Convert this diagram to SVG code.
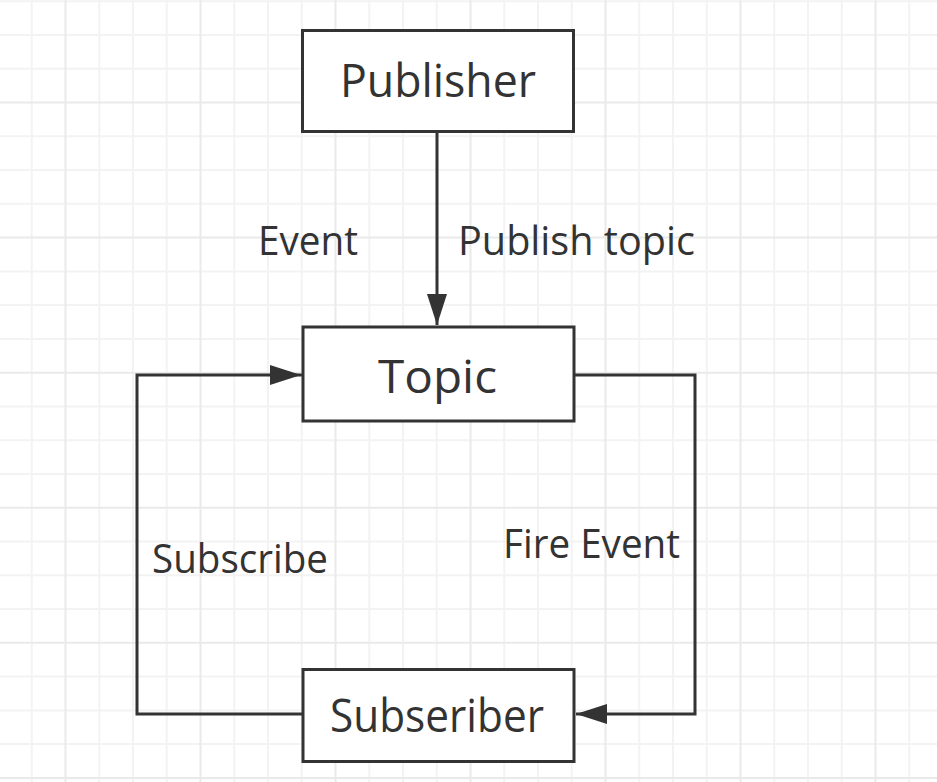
<svg xmlns="http://www.w3.org/2000/svg" width="937" height="782" viewBox="0 0 937 782">
<style>
.minor{stroke:#f3f3f3;stroke-width:2;fill:none}
.major{stroke:#eaeaea;stroke-width:2;fill:none}
.box{fill:#ffffff;stroke:#333333;stroke-width:3}
.edge{fill:none;stroke:#333333;stroke-width:3;stroke-linejoin:miter}
.t{font-family:"Open Sans","Noto Sans","DejaVu Sans",sans-serif;fill:#333333}
.node{font-size:46px}
.lbl{font-size:40px}
</style>
<defs>
<marker id="arr" markerUnits="userSpaceOnUse" markerWidth="32" markerHeight="20" refX="31" refY="10" orient="auto">
<path d="M0,0 L31,10 L0,20 z" fill="#333333"/>
</marker>
</defs>
<rect width="937" height="782" fill="#ffffff"/>
<g id="grid">
<path class="minor" d="M31.75,0V782M99.25,0V782M133,0V782M166.75,0V782M234.25,0V782M268,0V782M301.75,0V782M369.25,0V782M403,0V782M436.75,0V782M504.25,0V782M538,0V782M571.75,0V782M639.25,0V782M673,0V782M706.75,0V782M774.25,0V782M808,0V782M841.75,0V782M909.25,0V782M0,1.2H937M0,35H937M0,68.7H937M0,136.3H937M0,170.1H937M0,203.8H937M0,271.4H937M0,305.1H937M0,338.9H937M0,406.4H937M0,440.2H937M0,474H937M0,541.5H937M0,575.3H937M0,609.1H937M0,676.6H937M0,710.4H937M0,744.1H937"/>
<path class="major" d="M65.5,0V782M200.5,0V782M335.5,0V782M470.5,0V782M605.5,0V782M740.5,0V782M875.5,0V782M0,102.5H937M0,237.6H937M0,372.7H937M0,507.8H937M0,642.8H937M0,777.9H937"/>
</g>
<g id="connectors">
<path class="edge" d="M437,132 V325" marker-end="url(#arr)"/>
<path class="edge" d="M302,714 H137 V375 H301" marker-end="url(#arr)" stroke-linecap="round"/>
<path class="edge" d="M575,375 H695 V714 H576" marker-end="url(#arr)"/>
<text class="t lbl" x="258" y="255" textLength="100" lengthAdjust="spacingAndGlyphs">Event</text>
<text class="t lbl" x="458" y="255" textLength="237" lengthAdjust="spacingAndGlyphs">Publish topic</text>
<text class="t lbl" x="152" y="573" textLength="176" lengthAdjust="spacingAndGlyphs">Subscribe</text>
<text class="t lbl" x="503" y="558" textLength="177" lengthAdjust="spacingAndGlyphs">Fire Event</text>
</g>
<g id="publisher">
<rect class="box" x="302.5" y="30.5" width="271" height="101"/>
<text class="t node" x="340" y="97" textLength="196" lengthAdjust="spacingAndGlyphs">Publisher</text>
</g>
<g id="topic">
<rect class="box" x="303" y="327" width="271" height="94"/>
<text class="t node" x="378" y="393" font-size="48" textLength="119" lengthAdjust="spacingAndGlyphs">Topic</text>
</g>
<g id="subseriber">
<rect class="box" x="303" y="669.5" width="271" height="92"/>
<text class="t node" x="330" y="732" textLength="214" lengthAdjust="spacingAndGlyphs">Subseriber</text>
</g>
</svg>
